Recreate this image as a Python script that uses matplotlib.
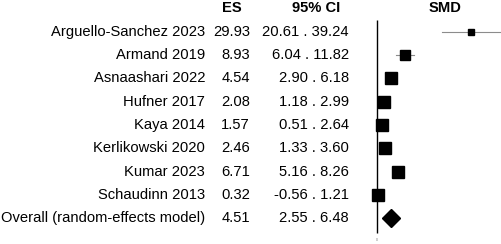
import numpy as np
import matplotlib
matplotlib.use('Agg')
import matplotlib.pyplot as plt
from matplotlib.transforms import blended_transform_factory

plt.rcParams['font.family'] = ['Liberation Sans', 'DejaVu Sans']

# study data (SMD with 95% CI)
studies = ['Arguello-Sanchez 2023', 'Armand 2019', 'Asnaashari 2022', 'Hufner 2017',
           'Kaya 2014', 'Kerlikowski 2020', 'Kumar 2023', 'Schaudinn 2013']
es = [29.93, 8.93, 4.54, 2.08, 1.57, 2.46, 6.71, 0.32]
lo = [20.61, 6.04, 2.90, 1.18, 0.51, 1.33, 5.16, -0.56]
hi = [39.24, 11.82, 6.18, 2.99, 2.64, 3.60, 8.26, 1.21]
# relative weights (%)
weights = [3.1, 10.9, 13.7, 15.4, 14.4, 14.4, 13.7, 14.4]

overall_label = 'Overall (random-effects model)'
overall_es = 4.51
overall_lo = 2.55
overall_hi = 6.48

W, H = 502, 244
fig = plt.figure(figsize=(W/100, H/100), dpi=100)
ax = fig.add_axes([355/W, 0, 147/W, 1])
ax.set_xlim(-7.03, 39.94)
ax.set_ylim(9.11, -1.36)
ax.axis('off')

n = len(studies)
rows = np.arange(n)

# CI lines and weighted boxes
for i in range(n):
    ax.plot([lo[i], hi[i]], [rows[i], rows[i]], color='#8c8c8c', lw=0.8, zorder=1)
    side = 3.24*np.sqrt(weights[i])*0.72
    ax.plot(es[i], rows[i], marker='s', ms=side, color='black', mec='black', zorder=2)
ax.plot(overall_es, n, marker='D', ms=9.2, color='black', zorder=2)

# line of no effect
ax.vlines(0, -0.5, 8.65, color='black', lw=1.0)
ax.text(0, 8.94, '0', fontsize=2.5, color='#777777', ha='center', va='center')

tr = blended_transform_factory(fig.transFigure, ax.transData)
fs = 10.6
ax.text(232/W, -1.0, 'ES', transform=tr, ha='center', va='center', fontsize=fs, fontweight='bold')
ax.text(316/W, -1.0, '95% CI', transform=tr, ha='center', va='center', fontsize=fs, fontweight='bold')
ax.text(445/W, -1.0, 'SMD', transform=tr, ha='center', va='center', fontsize=fs, fontweight='bold')

labels = studies + [overall_label]
ess = es + [overall_es]
los = lo + [overall_lo]
his = hi + [overall_hi]
for i in range(n + 1):
    ax.text(205/W, i, labels[i], transform=tr, ha='right', va='center', fontsize=fs)
    ax.text(250/W, i, '%.2f' % ess[i], transform=tr, ha='right', va='center', fontsize=fs)
    ax.text(349/W, i, '%.2f . %.2f' % (los[i], his[i]), transform=tr, ha='right', va='center', fontsize=fs)

fig.savefig('out.png', dpi=100)
